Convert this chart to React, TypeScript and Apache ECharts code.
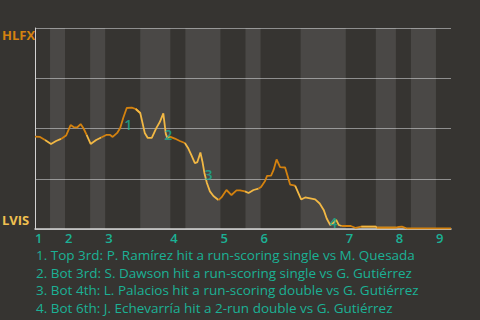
import React, { useEffect, useRef } from "react";
import * as echarts from "echarts";

// Plate-appearance progress (x) and HLFX win probability (y)
const paIndex = [0.0,1.0,2.0,3.2,4.2,5.2,6.2,7.1,7.7,8.4,9.1,9.7,10.3,11.1,12.2,13.2,14.2,15.0,15.5,16.4,17.0,17.6,18.3,19.3,20.1,21.0,21.9,22.5,23.3,24.2,24.9,25.6,26.1,26.4,26.9,27.9,28.9,29.9,30.6,31.2,31.9,32.4,33.0,33.4,33.8,34.3,34.9,35.6,36.6,37.2,38.2,39.2,40.2,40.9,41.9,42.6,43.6,44.6,45.1,45.9,46.3,47.1,47.6,48.2,48.9,49.9,50.9,51.9,53.1,53.9,54.9,55.9,56.8,57.6,58.2,58.9,59.6,60.1,60.6,61.2,63.0,64.0,65.1,68.0,68.2,72.0,72.6,73.2,74.1,83.0];
const winProb = [0.460,0.458,0.443,0.423,0.438,0.448,0.465,0.517,0.507,0.505,0.522,0.500,0.468,0.423,0.443,0.455,0.468,0.468,0.458,0.478,0.502,0.552,0.602,0.604,0.597,0.577,0.478,0.453,0.453,0.502,0.532,0.575,0.473,0.453,0.460,0.450,0.438,0.428,0.400,0.368,0.328,0.333,0.381,0.336,0.279,0.229,0.187,0.164,0.144,0.157,0.194,0.169,0.192,0.192,0.187,0.179,0.194,0.201,0.209,0.239,0.264,0.266,0.294,0.346,0.308,0.306,0.221,0.216,0.147,0.157,0.152,0.147,0.127,0.095,0.052,0.020,0.032,0.045,0.020,0.015,0.015,0.005,0.012,0.012,0.007,0.007,0.010,0.012,0.003,0.003];

// Half-inning boundaries (PA index)
const halfInningStarts = [0, 3, 6, 11, 14, 21, 27, 30, 37, 42, 45, 53, 62, 68, 72, 75, 80, 83];
const inningNumbers = [1, 2, 3, 4, 5, 6, 7, 8, 9];

// Key events
const eventX = [18.6, 26.6, 34.6, 59.5];
const eventY = [0.521, 0.47, 0.269, 0.03];
const eventLabels = ["1", "2", "3", "4"];
const eventTexts = [
  "1. Top 3rd: P. Ramírez hit a run-scoring single vs M. Quesada",
  "2. Bot 3rd: S. Dawson hit a run-scoring single vs G. Gutiérrez",
  "3. Bot 4th: L. Palacios hit a run-scoring double vs G. Gutiérrez",
  "4. Bot 6th: J. Echevarría hit a 2-run double vs G. Gutiérrez",
];

const awayTeam = "HLFX";
const homeTeam = "LVIS";

const BG = "#363431";
const DARK = "#d4820f";
const LIGHT = "#f2b844";
const TEAL = "#1bb195";
const FONT = "'Open Sans'";

export default function App() {
  const ref = useRef<HTMLDivElement>(null);
  useEffect(() => {
    document.body.style.margin = "0";
    if (!ref.current) return;
    const chart = echarts.init(ref.current, null, { renderer: "svg" });
    const inningStarts = halfInningStarts.filter((_, i) => i % 2 === 0).slice(0, inningNumbers.length);
    const bands: any[] = [];
    const lineSeries: any[] = [];
    for (let i = 0; i < halfInningStarts.length - 1; i++) {
      const a = halfInningStarts[i];
      const b = halfInningStarts[i + 1];
      const top = i % 2 === 0;
      if (!top) bands.push([{ xAxis: a }, { xAxis: b }]);
      const idx: number[] = [];
      paIndex.forEach((x, k) => {
        if (x >= a && (x < b || (i === halfInningStarts.length - 2 && x <= b))) idx.push(k);
      });
      if (idx.length && idx[0] > 0) idx.unshift(idx[0] - 1);
      const last = idx[idx.length - 1];
      if (last < paIndex.length - 1 && paIndex[last + 1] === b) idx.push(last + 1);
      lineSeries.push({
        type: "line",
        data: idx.map((k) => [paIndex[k], winProb[k]]),
        symbol: "none",
        silent: true,
        lineStyle: { width: 1.8, color: top ? DARK : LIGHT },
        z: 3,
      });
    }
    lineSeries[0].markArea = {
      silent: true,
      itemStyle: { color: "rgba(255,255,255,0.1)" },
      data: bands,
    };
    chart.setOption({
      animation: false,
      backgroundColor: BG,
      textStyle: { fontFamily: FONT },
      grid: { left: 35, right: 29, top: 28, height: 201, containLabel: false },
      title: {
        text: eventTexts.join("\n"),
        left: 36,
        top: 246,
        padding: 0,
        textStyle: { color: TEAL, fontSize: 13.5, fontWeight: "normal", lineHeight: 17.7, fontFamily: FONT },
      },
      xAxis: {
        type: "value",
        min: 0,
        max: 83,
        splitLine: { show: false },
        axisTick: { show: false },
        axisLine: { show: true, lineStyle: { color: "#d2d2d2", width: 1.5 } },
        axisLabel: {
          customValues: inningStarts,
          formatter: (v: number) => String(inningNumbers[inningStarts.indexOf(v)] ?? ""),
          color: TEAL,
          fontSize: 13,
          lineHeight: 13,
          fontWeight: 600,
          align: "left",
          margin: 2,
          fontFamily: FONT,
        },
      },
      yAxis: {
        type: "value",
        min: 0,
        max: 1,
        interval: 0.25,
        axisLabel: { show: false },
        axisTick: { show: false },
        axisLine: { show: true, lineStyle: { color: "#d2d2d2", width: 1 } },
        splitLine: { show: true, lineStyle: { color: "#8e8e8e", width: 1 } },
      },
      graphic: [
        { type: "text", left: 2, top: 28, style: { text: awayTeam, fill: DARK, font: `bold 13px ${FONT}` } },
        { type: "text", left: 2, top: 213, style: { text: homeTeam, fill: "#f0c050", font: `bold 13px ${FONT}` } },
      ],
      series: [
        ...lineSeries,
        {
          type: "scatter",
          data: eventX.map((x, i) => [x, eventY[i]]),
          symbolSize: 0,
          z: 4,
          label: {
            show: true,
            position: "inside",
            formatter: (p: any) => eventLabels[p.dataIndex],
            color: TEAL,
            fontSize: 14,
            fontWeight: 600,
            fontFamily: FONT,
          },
        },
      ],
    });
    return () => chart.dispose();
  }, []);
  return <div ref={ref} style={{ width: 480, height: 320 }} />;
}
